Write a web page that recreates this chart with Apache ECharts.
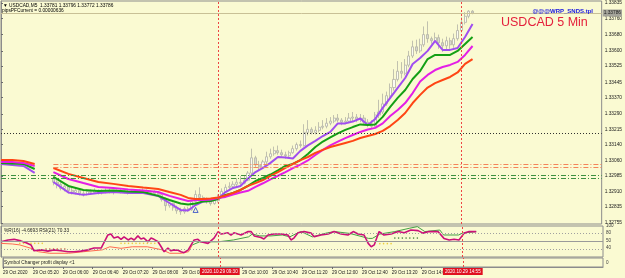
<!DOCTYPE html>
<html lang="en">
<head>
<meta charset="UTF-8"/>
<script src="https://cdn.jsdelivr.net/npm/echarts@6/dist/echarts.min.js"></script>
<title>USDCAD M5</title>
<style>
    html, body { margin: 0; padding: 0; background: #fafad2; }
    #chart { width: 625px; height: 278px; }
</style>
</head>
<body>
<div id="chart"></div>
<script type="text/javascript">
// x is the bar number: bar 0 = 29 Oct 04:40, one bar = 5 minutes
var maBars = [0, 3, 6, 9, 14, 18, 22, 26, 30, 34, 38, 42, 45, 48, 50, 52, 54, 56, 58, 60, 62, 64, 66, 68, 70, 72, 74, 76, 78, 80, 82, 84, 86, 88, 90, 92, 94, 96, 98, 100, 102, 104, 106, 108, 110, 112, 114, 116, 118, 120, 122, 124, 126];
var maRed = [1.33064, 1.33064, 1.33059, 1.33045, 1.33025, 1.32996, 1.32976, 1.32956, 1.32947, 1.32937, 1.32929, 1.32922, 1.32907, 1.32893, 1.32878, 1.32873, 1.32873, 1.32875, 1.32880, 1.32890, 1.32902, 1.32917, 1.32937, 1.32951, 1.32966, 1.32986, 1.33005, 1.33025, 1.33045, 1.33064, 1.33079, 1.33099, 1.33114, 1.33128, 1.33138, 1.33148, 1.33158, 1.33172, 1.33182, 1.33192, 1.33207, 1.33231, 1.33261, 1.33295, 1.33344, 1.33384, 1.33420, 1.33442, 1.33457, 1.33472, 1.33494, 1.33536, 1.33560];
var maMagenta = [1.33055, 1.33055, 1.33050, 1.33035, 1.33005, 1.32971, 1.32951, 1.32932, 1.32927, 1.32920, 1.32915, 1.32907, 1.32888, 1.32873, 1.32863, 1.32868, 1.32868, 1.32870, 1.32878, 1.32883, 1.32895, 1.32905, 1.32913, 1.32932, 1.32950, 1.32969, 1.32987, 1.33005, 1.33024, 1.33042, 1.33062, 1.33089, 1.33114, 1.33136, 1.33154, 1.33172, 1.33187, 1.33202, 1.33214, 1.33222, 1.33244, 1.33280, 1.33310, 1.33344, 1.33393, 1.33450, 1.33482, 1.33506, 1.33521, 1.33531, 1.33546, 1.33580, 1.33624];
var maGreen = [1.33050, 1.33047, 1.33045, 1.33020, 1.32981, 1.32937, 1.32917, 1.32912, 1.32915, 1.32910, 1.32907, 1.32888, 1.32868, 1.32851, 1.32846, 1.32851, 1.32861, 1.32863, 1.32873, 1.32893, 1.32902, 1.32917, 1.32937, 1.32961, 1.32976, 1.32993, 1.33013, 1.33035, 1.33045, 1.33064, 1.33094, 1.33128, 1.33155, 1.33175, 1.33195, 1.33212, 1.33226, 1.33239, 1.33236, 1.33239, 1.33276, 1.33325, 1.33369, 1.33408, 1.33462, 1.33501, 1.33560, 1.33580, 1.33580, 1.33580, 1.33600, 1.33634, 1.33668];
var maPurple = [1.33045, 1.33040, 1.33035, 1.33001, 1.32956, 1.32905, 1.32893, 1.32902, 1.32907, 1.32902, 1.32902, 1.32888, 1.32853, 1.32819, 1.32816, 1.32843, 1.32860, 1.32863, 1.32875, 1.32907, 1.32927, 1.32937, 1.32973, 1.33005, 1.33025, 1.33050, 1.33079, 1.33077, 1.33072, 1.33109, 1.33136, 1.33158, 1.33182, 1.33202, 1.33244, 1.33244, 1.33253, 1.33268, 1.33236, 1.33266, 1.33320, 1.33369, 1.33418, 1.33467, 1.33536, 1.33565, 1.33600, 1.33649, 1.33605, 1.33605, 1.33614, 1.33668, 1.33732];

// candles: [open, close, low, high], first one is bar 14
var candleStart = 14;
var candles = [
    [1.32975, 1.32955, 1.32940, 1.32985], [1.32955, 1.32945, 1.32925, 1.32965], [1.32945, 1.32925, 1.32915, 1.32955],
    [1.32925, 1.32935, 1.32910, 1.32945], [1.32935, 1.32915, 1.32900, 1.32940], [1.32915, 1.32905, 1.32895, 1.32930],
    [1.32905, 1.32915, 1.32895, 1.32925], [1.32915, 1.32900, 1.32890, 1.32920], [1.32900, 1.32895, 1.32885, 1.32915],
    [1.32895, 1.32910, 1.32890, 1.32920], [1.32910, 1.32905, 1.32895, 1.32920], [1.32905, 1.32915, 1.32900, 1.32925],
    [1.32915, 1.32905, 1.32895, 1.32920], [1.32905, 1.32910, 1.32895, 1.32920], [1.32910, 1.32915, 1.32900, 1.32925],
    [1.32915, 1.32905, 1.32900, 1.32925], [1.32905, 1.32910, 1.32895, 1.32915], [1.32910, 1.32915, 1.32905, 1.32920],
    [1.32915, 1.32905, 1.32900, 1.32925], [1.32905, 1.32910, 1.32900, 1.32915], [1.32910, 1.32905, 1.32895, 1.32915],
    [1.32905, 1.32910, 1.32900, 1.32920], [1.32910, 1.32915, 1.32905, 1.32920], [1.32915, 1.32910, 1.32900, 1.32920],
    [1.32910, 1.32915, 1.32905, 1.32925], [1.32915, 1.32905, 1.32900, 1.32920], [1.32905, 1.32910, 1.32900, 1.32915],
    [1.32910, 1.32900, 1.32895, 1.32915], [1.32900, 1.32895, 1.32885, 1.32910], [1.32895, 1.32870, 1.32860, 1.32900],
    [1.32870, 1.32840, 1.32815, 1.32880], [1.32840, 1.32850, 1.32830, 1.32860], [1.32850, 1.32830, 1.32815, 1.32855],
    [1.32830, 1.32815, 1.32800, 1.32840], [1.32815, 1.32810, 1.32795, 1.32830], [1.32810, 1.32825, 1.32800, 1.32835],
    [1.32825, 1.32820, 1.32810, 1.32835], [1.32820, 1.32860, 1.32815, 1.32870], [1.32860, 1.32895, 1.32850, 1.32915],
    [1.32895, 1.32880, 1.32870, 1.32930], [1.32880, 1.32870, 1.32860, 1.32890], [1.32870, 1.32860, 1.32850, 1.32880],
    [1.32860, 1.32850, 1.32840, 1.32870], [1.32850, 1.32865, 1.32845, 1.32875], [1.32865, 1.32885, 1.32855, 1.32895],
    [1.32885, 1.32910, 1.32880, 1.32925], [1.32910, 1.32930, 1.32905, 1.32945], [1.32930, 1.32935, 1.32920, 1.32955],
    [1.32935, 1.32945, 1.32925, 1.32960], [1.32945, 1.32955, 1.32935, 1.32975], [1.32955, 1.32950, 1.32940, 1.32985],
    [1.32950, 1.32965, 1.32945, 1.32990], [1.32965, 1.33000, 1.32960, 1.33010], [1.33000, 1.33075, 1.32995, 1.33120],
    [1.33075, 1.33040, 1.33025, 1.33085], [1.33040, 1.33030, 1.33015, 1.33060], [1.33030, 1.33055, 1.33020, 1.33065],
    [1.33055, 1.33080, 1.33040, 1.33105], [1.33080, 1.33095, 1.33070, 1.33120], [1.33095, 1.33110, 1.33085, 1.33130],
    [1.33110, 1.33100, 1.33090, 1.33135], [1.33100, 1.33090, 1.33080, 1.33115], [1.33090, 1.33085, 1.33070, 1.33105],
    [1.33085, 1.33100, 1.33075, 1.33110], [1.33100, 1.33120, 1.33095, 1.33135], [1.33120, 1.33140, 1.33110, 1.33150],
    [1.33140, 1.33135, 1.33125, 1.33160], [1.33135, 1.33200, 1.33130, 1.33240], [1.33200, 1.33215, 1.33185, 1.33260],
    [1.33215, 1.33200, 1.33190, 1.33225], [1.33200, 1.33210, 1.33190, 1.33230], [1.33210, 1.33225, 1.33200, 1.33250],
    [1.33225, 1.33230, 1.33215, 1.33260], [1.33230, 1.33245, 1.33220, 1.33270], [1.33245, 1.33255, 1.33235, 1.33275],
    [1.33255, 1.33270, 1.33245, 1.33285], [1.33270, 1.33260, 1.33250, 1.33290], [1.33260, 1.33250, 1.33235, 1.33270],
    [1.33250, 1.33255, 1.33240, 1.33275], [1.33255, 1.33270, 1.33245, 1.33295], [1.33270, 1.33275, 1.33255, 1.33300],
    [1.33275, 1.33265, 1.33250, 1.33290], [1.33265, 1.33270, 1.33250, 1.33290], [1.33270, 1.33250, 1.33240, 1.33285],
    [1.33250, 1.33240, 1.33225, 1.33265], [1.33240, 1.33230, 1.33220, 1.33260], [1.33230, 1.33285, 1.33225, 1.33300],
    [1.33285, 1.33300, 1.33270, 1.33360], [1.33300, 1.33340, 1.33290, 1.33390], [1.33340, 1.33380, 1.33330, 1.33400],
    [1.33380, 1.33420, 1.33370, 1.33440], [1.33420, 1.33460, 1.33405, 1.33510], [1.33460, 1.33500, 1.33450, 1.33550],
    [1.33500, 1.33490, 1.33465, 1.33545], [1.33490, 1.33530, 1.33480, 1.33560], [1.33530, 1.33575, 1.33520, 1.33600],
    [1.33575, 1.33620, 1.33565, 1.33650], [1.33620, 1.33600, 1.33585, 1.33655], [1.33600, 1.33630, 1.33590, 1.33660],
    [1.33630, 1.33680, 1.33620, 1.33720], [1.33680, 1.33660, 1.33640, 1.33745], [1.33660, 1.33650, 1.33635, 1.33670],
    [1.33650, 1.33665, 1.33640, 1.33690], [1.33665, 1.33640, 1.33610, 1.33680], [1.33640, 1.33625, 1.33595, 1.33660],
    [1.33625, 1.33650, 1.33600, 1.33670], [1.33650, 1.33630, 1.33610, 1.33665], [1.33630, 1.33660, 1.33615, 1.33685],
    [1.33660, 1.33700, 1.33650, 1.33730], [1.33700, 1.33740, 1.33690, 1.33765], [1.33740, 1.33770, 1.33730, 1.33790],
    [1.33770, 1.33795, 1.33760, 1.33800], [1.33795, 1.33786, 1.33780, 1.33800]
];
var arrowMarks = [[52, 1.32819]];

// lower window, [bar, value] on a 0..100 scale
var wpr = [[0, 49], [1.9, 55], [3.5, 57], [5.3, 52], [6.7, 46], [8, 39], [8.8, 20], [10.7, 23], [12.5, 19], [14.1, 23], [16, 20], [17.9, 17], [19.5, 17], [21.3, 19], [23.2, 23], [24.8, 29], [26.7, 29], [28.5, 71], [29.3, 74], [30.1, 61], [31.2, 65], [32, 57], [32.8, 65], [33.9, 55], [34.7, 61], [35.5, 55], [36.5, 68], [37.3, 58], [38.1, 61], [39.2, 49], [40, 61], [40.8, 57], [41.9, 49], [42.7, 33], [43.5, 17], [44.5, 29], [45.3, 20], [46.1, 23], [47.2, 22], [48, 17], [48.8, 14], [49.9, 23], [50.7, 39], [51.5, 55], [52.5, 57], [53.3, 49], [55.2, 44], [56.8, 61], [57.9, 82], [58.7, 74], [59.5, 76], [60.5, 78], [61.3, 71], [62.1, 78], [63.2, 74], [64, 71], [65.9, 82], [66.7, 82], [67.5, 68], [69.3, 63], [70.1, 58], [71.2, 71], [72.8, 74], [74.7, 74], [76.5, 71], [77.3, 55], [78.1, 61], [79.2, 78], [80.8, 82], [82.7, 77], [83.5, 65], [85.3, 71], [87.2, 74], [88.8, 82], [90.7, 74], [92.5, 71], [93.9, 82], [95.2, 74], [96.8, 71], [97.9, 44], [98.7, 33], [99.5, 39], [100.8, 82], [102.1, 71], [104, 74], [105.9, 82], [107.5, 78], [109.3, 87], [111.2, 85], [112.5, 77], [114.1, 82], [116.5, 82], [118.1, 60], [119.5, 55], [120.8, 57], [122.1, 55], [123.5, 77], [124.8, 82], [126.7, 82]];
var rsiLow = [[0, 44], [3, 42], [5, 39], [8, 28], [10, 17], [13, 12], [18, 12], [22, 17], [27, 23], [29, 33], [32, 28], [35, 33], [39, 33], [43, 23], [45, 12], [48, 12], [50, 17], [51, 39]];
var rsiHigh = [[51, 39], [53, 49], [58, 49], [62, 55], [66, 65], [67, 74], [69, 68], [72, 68], [75, 71], [77, 65], [79, 77], [80, 82], [83, 65], [87, 78], [89, 82], [93, 76], [98, 60], [99, 60], [101, 74], [105, 82], [109, 93], [111, 98], [113, 82], [117, 87], [118, 71], [122, 71], [123, 77], [126.7, 82]];
var dotsYellow = [[5, 44], [6, 44], [7, 44], [8, 44], [9, 44], [10, 44], [11, 44], [32, 44], [33, 44], [34, 44], [35, 44], [36, 44], [37, 44], [38, 44], [39, 44], [40, 44], [41, 44], [42, 44], [101, 43], [102, 43], [103, 43], [104, 43]];
var dotsRed = [[12, 26], [13, 26], [14, 26], [15, 26], [16, 26], [17, 26]];
var dotsGreen = [[105, 61], [106, 61], [107, 61], [108, 61], [109, 61], [110, 61], [111, 61]];

// axis ticks
var priceTicks = [1.33835, 1.33760, 1.33680, 1.33600, 1.33525, 1.33445, 1.33370, 1.33290, 1.33215, 1.33140, 1.33060, 1.32985, 1.32910, 1.32835, 1.32755];
var timeTickBars = [0, 8, 16, 24, 32, 40, 48, 64, 72, 80, 88, 96, 104, 112];
var timeTickLabels = ['29 Oct 2020', '29 Oct 05:20', '29 Oct 06:00', '29 Oct 06:40', '29 Oct 07:20', '29 Oct 08:00', '29 Oct 08:40', '29 Oct 10:00', '29 Oct 10:40', '29 Oct 11:20', '29 Oct 12:00', '29 Oct 12:40', '29 Oct 13:20', '29 Oct 14:00'];
var indTicks = [100, 77, 52, 30, 20];
var indTickLabels = ['100', '80', '50', '40', '-120'];

// lines drawn on the chart
var markBars = [58, 123];
var markBarLabels = ['2020.10.29 09:30', '2020.10.29 14:55'];
var lastPrice = 1.33786;
var levelBlack = 1.33197;
var levelsOrange = [1.33045, 1.33030];
var levelsGreen = [1.32991, 1.32976];
var orangeFrom = 14;

var FONT = 'Liberation Sans';
var X_MAX = 160.5;

function linePoints(bars, vals) {
    var out = [];
    for (var i = 0; i < bars.length; i++) {
        if (i > 0 && bars[i] - bars[i - 1] > 4) {
            out.push([bars[i - 1] + 1, '-']);
        }
        out.push([bars[i], vals[i]]);
    }
    return out;
}

function maSeries(name, vals, color) {
    return {
        name: name,
        type: 'line',
        xAxisIndex: 0,
        yAxisIndex: 0,
        data: linePoints(maBars, vals),
        showSymbol: false,
        lineStyle: { color: color, width: 2 },
        z: 3,
        silent: true
    };
}

function vLines(withLabel) {
    var res = [];
    for (var i = 0; i < markBars.length; i++) {
        var item = {
            xAxis: markBars[i],
            lineStyle: { color: '#ee4444', type: [2, 2], width: 1 }
        };
        if (withLabel) {
            item.label = {
                show: true,
                position: 'start',
                formatter: markBarLabels[i],
                backgroundColor: '#e01020',
                color: '#ffffff',
                fontSize: 4.6,
                fontFamily: FONT,
                padding: [1, 2],
                distance: 1
            };
        }
        res.push(item);
    }
    return res;
}

function hLine(from, p, style) {
    return [{ coord: [from, p], lineStyle: style }, { coord: [X_MAX, p] }];
}

var mainMarks = [
    hLine(0, levelBlack, { color: '#303030', type: [1, 2], width: 1 }),
    [{ coord: [0, lastPrice], lineStyle: { color: '#c8c096', type: 'solid', width: 1 },
        label: {
            show: true, position: 'end', formatter: lastPrice.toFixed(5),
            backgroundColor: '#a4a49a', color: '#1a1a1a', fontSize: 4.8, fontFamily: FONT,
            padding: [1, 1], distance: 1
        } }, { coord: [X_MAX, lastPrice] }]
];
levelsOrange.forEach(function (p) {
    mainMarks.push(hLine(orangeFrom, p, { color: '#f4845a', type: [5, 2, 1, 2], width: 1 }));
});
levelsGreen.forEach(function (p) {
    mainMarks.push(hLine(0, p, { color: '#3c9040', type: [5, 2, 1, 2], width: 1 }));
});
mainMarks = mainMarks.concat(vLines(false));

var candleData = candles.map(function (c, k) {
    return [candleStart + k, c[0], c[1], c[2], c[3]];
});

var txt = function (size, color, weight) {
    return { fontSize: size, color: color, fontWeight: weight || 'normal', fontFamily: FONT };
};

var levelHost = {
    name: 'levels',
    type: 'line',
    xAxisIndex: 0,
    yAxisIndex: 0,
    data: [[0, '-']],
    showSymbol: false,
    silent: true,
    z: 2,
    markLine: {
        silent: true,
        symbol: ['none', 'none'],
        label: { show: false },
        data: mainMarks
    }
};

var myChart = echarts.init(document.getElementById('chart'), null, { renderer: 'canvas' });
var option = {
    backgroundColor: '#fafad2',
    animation: false,
    title: [
        { text: '\u25BC USDCAD,M5  1.33781 1.33796 1.33772 1.33786', left: 3, top: 3, padding: 0, textStyle: txt(4.8, '#000') },
        { text: 'pipsPFCurrent = 0.00000636', left: 2, top: 8, padding: 0, textStyle: txt(4.8, '#000') },
        { text: '@@@WRP_SNDS.tpl', right: 32, top: 8, padding: 0, textStyle: txt(6, '#1414e0', 'bold') },
        { text: 'USDCAD 5 Min', left: 501, top: 16, padding: 0, textStyle: txt(12.5, '#e4203c') },
        { text: '%R(16) -4.6693 RSI(21) 70.33', left: 4, top: 228, padding: 0, textStyle: txt(4.8, '#202020') },
        { text: 'Symbol Changer profit display <1', left: 4, top: 260, padding: 0, textStyle: txt(4.8, '#202020') }
    ],
    grid: [
        { left: 1, right: 22, top: 1, height: 223, show: true, borderColor: '#8c8c8c', borderWidth: 1 },
        { left: 1, right: 22, top: 226, height: 31, show: true, borderColor: '#8c8c8c', borderWidth: 1 },
        { left: 1, right: 22, top: 258, height: 9, show: true, borderColor: '#8c8c8c', borderWidth: 1 }
    ],
    xAxis: [
        { type: 'value', gridIndex: 0, min: 0, max: X_MAX, show: false },
        { type: 'value', gridIndex: 1, min: 0, max: X_MAX, show: false },
        {
            type: 'value', gridIndex: 2, min: 0, max: X_MAX,
            splitLine: { show: false },
            axisLine: { show: true, lineStyle: { color: '#8c8c8c' } },
            axisTick: { show: true, length: 2, customValues: timeTickBars, lineStyle: { color: '#6c6c6c' } },
            axisLabel: {
                customValues: timeTickBars,
                align: 'left',
                margin: 3,
                fontSize: 4.5,
                fontFamily: FONT,
                color: '#202020',
                formatter: function (v) {
                    var k = timeTickBars.indexOf(v);
                    return k >= 0 ? timeTickLabels[k] : '';
                }
            }
        }
    ],
    yAxis: [
        {
            type: 'value', gridIndex: 0, position: 'right', min: 1.32750, max: 1.33845,
            splitLine: { show: false },
            axisLine: { show: true, lineStyle: { color: '#8c8c8c' } },
            axisTick: { show: true, length: 2, customValues: priceTicks, lineStyle: { color: '#6c6c6c' } },
            axisLabel: {
                customValues: priceTicks,
                margin: 3,
                fontSize: 4.8,
                fontFamily: FONT,
                color: '#202020',
                formatter: function (v) { return v.toFixed(5); }
            }
        },
        {
            type: 'value', gridIndex: 1, position: 'right', min: 0, max: 100,
            splitLine: { show: false },
            axisLine: { show: true, lineStyle: { color: '#8c8c8c' } },
            axisTick: { show: false },
            axisLabel: {
                customValues: indTicks,
                margin: 3,
                fontSize: 4.6,
                fontFamily: FONT,
                color: '#404040',
                formatter: function (v) {
                    var k = indTicks.indexOf(v);
                    return k >= 0 ? indTickLabels[k] : '';
                }
            }
        },
        {
            type: 'value', gridIndex: 2, position: 'right', min: 0, max: 1,
            splitLine: { show: false },
            axisLine: { show: true, lineStyle: { color: '#8c8c8c' } },
            axisTick: { show: false },
            axisLabel: {
                customValues: [0.5], margin: 3, fontSize: 4.6, fontFamily: FONT, color: '#404040',
                formatter: function () { return '0'; }
            }
        }
    ],
    series: [
        levelHost,
        {
            name: 'USDCAD',
            type: 'candlestick',
            xAxisIndex: 0,
            yAxisIndex: 0,
            data: candleData,
            barWidth: 2.6,
            z: 1,
            silent: true,
            itemStyle: {
                color: '#fbfbf2',
                color0: '#d9d9cd',
                borderColor: '#b2b2a6',
                borderColor0: '#b2b2a6',
                borderWidth: 0.8
            }
        },
        maSeries('MA purple', maPurple, '#a04ef0'),
        maSeries('MA green', maGreen, '#14a014'),
        maSeries('MA magenta', maMagenta, '#e41ee6'),
        maSeries('MA red', maRed, '#ff4514'),
        {
            name: 'arrow',
            type: 'scatter',
            xAxisIndex: 0,
            yAxisIndex: 0,
            data: arrowMarks,
            symbol: 'triangle',
            symbolSize: 5,
            itemStyle: { color: 'none', borderColor: '#2440c8', borderWidth: 1 },
            z: 4,
            silent: true
        },
        {
            name: 'RSI low',
            type: 'line',
            xAxisIndex: 1,
            yAxisIndex: 1,
            data: rsiLow,
            showSymbol: false,
            lineStyle: { color: '#ff6a50', width: 1 },
            silent: true
        },
        {
            name: 'RSI',
            type: 'line',
            xAxisIndex: 1,
            yAxisIndex: 1,
            data: rsiHigh,
            showSymbol: false,
            lineStyle: { color: '#44a044', width: 1 },
            silent: true
        },
        {
            name: '%R',
            type: 'line',
            xAxisIndex: 1,
            yAxisIndex: 1,
            data: wpr,
            showSymbol: false,
            lineStyle: { color: '#cc1078', width: 1.6 },
            z: 3,
            silent: true,
            markLine: {
                silent: true,
                symbol: ['none', 'none'],
                label: { show: false },
                data: [
                    { yAxis: 77, lineStyle: { color: '#a0a0a0', type: [1, 2], width: 1 } },
                    { yAxis: 52, lineStyle: { color: '#9a9a9a', type: 'solid', width: 1 } },
                    { yAxis: 26, lineStyle: { color: '#a0a0a0', type: [1, 2], width: 1 } }
                ].concat(vLines(false))
            }
        },
        {
            name: 'dots yellow', type: 'scatter', xAxisIndex: 1, yAxisIndex: 1,
            data: dotsYellow, symbolSize: 1.6, itemStyle: { color: '#e8c010' }, silent: true
        },
        {
            name: 'dots red', type: 'scatter', xAxisIndex: 1, yAxisIndex: 1,
            data: dotsRed, symbolSize: 1.6, itemStyle: { color: '#c03018' }, silent: true
        },
        {
            name: 'dots green', type: 'scatter', xAxisIndex: 1, yAxisIndex: 1,
            data: dotsGreen, symbolSize: 1.6, itemStyle: { color: '#1e6a1e' }, silent: true
        },
        {
            name: 'profit',
            type: 'line',
            xAxisIndex: 2,
            yAxisIndex: 2,
            data: [[0, '-']],
            showSymbol: false,
            silent: true,
            markLine: {
                silent: true,
                symbol: ['none', 'none'],
                data: vLines(true)
            }
        }
    ]
};
myChart.setOption(option);
</script>
</body>
</html>
